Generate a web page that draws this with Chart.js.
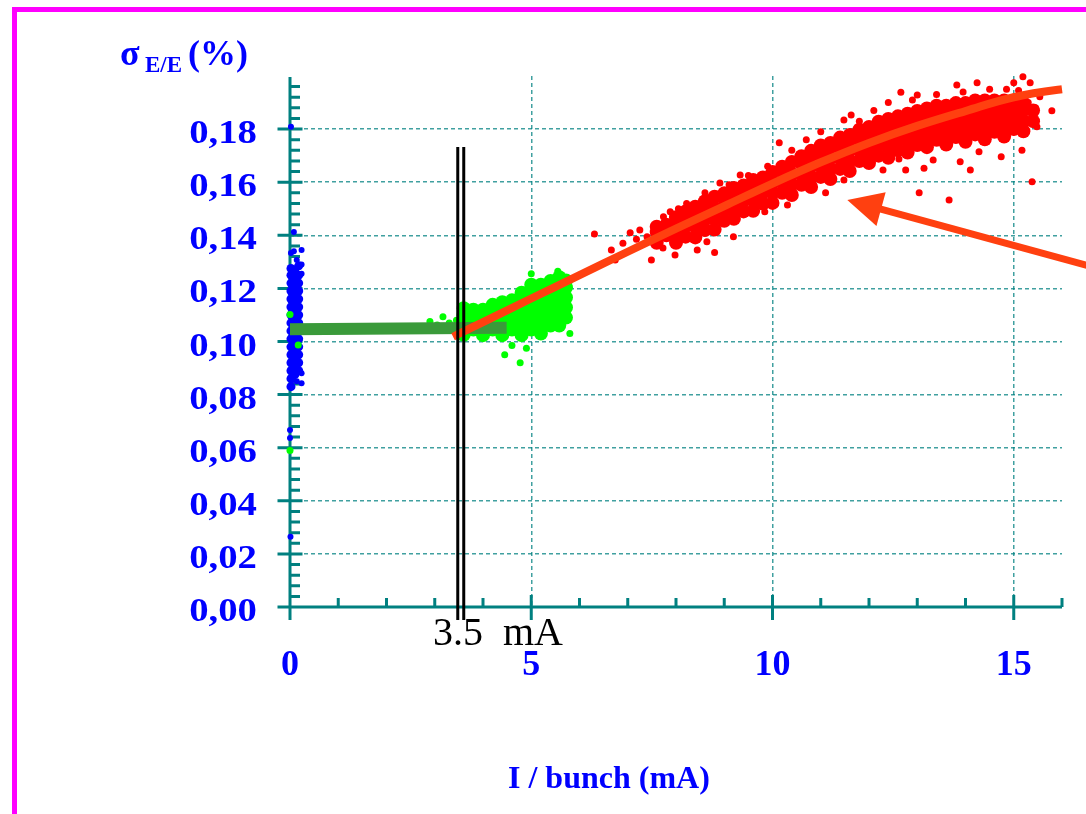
<!DOCTYPE html>
<html>
<head>
<meta charset="utf-8">
<script src="https://cdn.jsdelivr.net/npm/chart.js@4.4.1/dist/chart.umd.min.js"></script>
<style>
  html, body { margin: 0; padding: 0; background: #fff; overflow: hidden; }
  #wrap { position: relative; width: 1086px; height: 814px; overflow: hidden; }
  #frame { position: absolute; left: 12px; top: 7px; width: 2000px; height: 2000px;
           border-left: 5px solid #ff00ff; border-top: 5px solid #ff00ff; }
  canvas { position: absolute; left: 0; top: 0; }
</style>
</head>
<body>
<div id="wrap"><div id="frame"></div><canvas id="myChart" width="1086" height="814"></canvas></div>
<script>
// axis ranges and text
const xMax = 16;
const yMax = 0.2;
const yTitle = ['σ', 'E/E', '(%)'];
const xTitle = 'I / bunch (mA)';
const markerText = '3.5  mA';

// measured points, [current (mA), sigma E/E (%)]
const bluePoints = [
  [0.02,0.0830],[0.02,0.0860],[0.02,0.0890],[0.02,0.0920],[0.02,0.0950],[0.02,0.0980],
  [0.02,0.1010],[0.02,0.1040],[0.02,0.1070],[0.02,0.1100],[0.02,0.1130],[0.02,0.1160],
  [0.02,0.1190],[0.02,0.1220],[0.02,0.1250],[0.02,0.1275],
  [0.10,0.0875],[0.10,0.0905],[0.10,0.0935],[0.10,0.0965],[0.10,0.0995],[0.10,0.1025],
  [0.10,0.1055],[0.10,0.1085],[0.10,0.1115],[0.10,0.1145],[0.10,0.1175],[0.10,0.1205],
  [0.10,0.1235],[0.10,0.1265],
  [0.18,0.0890],[0.18,0.0920],[0.18,0.0950],[0.18,0.0980],[0.18,0.1010],[0.18,0.1040],
  [0.18,0.1070],[0.18,0.1100],[0.18,0.1130],[0.18,0.1160],[0.18,0.1190],[0.18,0.1220],
  [0.18,0.1250],[0.18,0.1285]
];
const blueSparse = [
  [0.24,0.1345],[0.02,0.1333],[0.08,0.1412],[0.14,0.1307],[0.24,0.1290],[0.24,0.1255],
  [0.24,0.0880],[0.24,0.0843],[0.00,0.0667],[0.00,0.0637],[0.01,0.0265],[0.02,0.1809],
  [0.06,0.0855],[0.14,0.0850],[0.08,0.1340]
];

const greenCore = [
  [3.60,0.1025],[3.60,0.1062],[3.60,0.1099],[3.60,0.1125],
  [3.80,0.1045],[3.80,0.1083],[3.80,0.1120],
  [4.00,0.1024],[4.00,0.1061],[4.00,0.1098],[4.00,0.1120],
  [4.20,0.1045],[4.20,0.1083],[4.20,0.1121],[4.20,0.1138],
  [4.40,0.1024],[4.40,0.1062],[4.40,0.1100],[4.40,0.1138],[4.40,0.1148],
  [4.60,0.1045],[4.60,0.1083],[4.60,0.1121],[4.60,0.1155],
  [4.80,0.1024],[4.80,0.1062],[4.80,0.1100],[4.80,0.1138],[4.80,0.1176],[4.80,0.1184],
  [5.00,0.1045],[5.00,0.1083],[5.00,0.1121],[5.00,0.1159],[5.00,0.1197],[5.00,0.1214],
  [5.20,0.1030],[5.20,0.1068],[5.20,0.1106],[5.20,0.1144],[5.20,0.1182],[5.20,0.1214],
  [5.40,0.1060],[5.40,0.1098],[5.40,0.1136],[5.40,0.1174],[5.40,0.1212],[5.40,0.1228],
  [5.58,0.1060],[5.58,0.1098],[5.58,0.1136],[5.58,0.1174],[5.58,0.1212],[5.58,0.1242],
  [5.72,0.1090],[5.72,0.1128],[5.72,0.1166],[5.72,0.1204],[5.72,0.1230]
];

const greenSparse = [
  [2.90,0.1075],[3.05,0.1062],[3.17,0.1093],[3.30,0.1070],[3.45,0.1080],
  [4.45,0.0950],[4.60,0.0985],[4.77,0.0920],[4.90,0.0975],[5.80,0.1030],
  [5.00,0.1255],[5.55,0.1265],[0.00,0.1102],[0.17,0.0987],[0.00,0.0589]
];

const redCore = [
  [7.6,0.1372],[7.6,0.1412],[7.6,0.1432],
  [7.8,0.1400],[7.8,0.1440],
  [8.0,0.1372],[8.0,0.1412],[8.0,0.1452],[8.0,0.1468],
  [8.2,0.1395],[8.2,0.1435],[8.2,0.1475],[8.2,0.1490],
  [8.4,0.1392],[8.4,0.1432],[8.4,0.1472],[8.4,0.1508],
  [8.6,0.1420],[8.6,0.1460],[8.6,0.1500],[8.6,0.1528],
  [8.8,0.1422],[8.8,0.1462],[8.8,0.1502],[8.8,0.1545],
  [9.0,0.1455],[9.0,0.1495],[9.0,0.1535],[9.0,0.1558],
  [9.2,0.1462],[9.2,0.1502],[9.2,0.1542],[9.2,0.1578],
  [9.4,0.1490],[9.4,0.1530],[9.4,0.1570],[9.4,0.1588],
  [9.6,0.1492],[9.6,0.1532],[9.6,0.1572],[9.6,0.1608],
  [9.8,0.1520],[9.8,0.1560],[9.8,0.1600],[9.8,0.1618],
  [10.0,0.1522],[10.0,0.1562],[10.0,0.1602],[10.0,0.1638],
  [10.2,0.1560],[10.2,0.1600],[10.2,0.1640],[10.2,0.1658],
  [10.4,0.1552],[10.4,0.1592],[10.4,0.1632],[10.4,0.1676],
  [10.6,0.1590],[10.6,0.1630],[10.6,0.1670],[10.6,0.1698],
  [10.8,0.1582],[10.8,0.1622],[10.8,0.1662],[10.8,0.1702],[10.8,0.1718],
  [11.0,0.1620],[11.0,0.1660],[11.0,0.1700],[11.0,0.1738],
  [11.2,0.1612],[11.2,0.1652],[11.2,0.1692],[11.2,0.1732],[11.2,0.1748],
  [11.4,0.1650],[11.4,0.1690],[11.4,0.1730],[11.4,0.1768],
  [11.6,0.1642],[11.6,0.1682],[11.6,0.1722],[11.6,0.1762],[11.6,0.1778],
  [11.8,0.1680],[11.8,0.1720],[11.8,0.1760],[11.8,0.1798],
  [12.0,0.1672],[12.0,0.1712],[12.0,0.1752],[12.0,0.1792],[12.0,0.1808],
  [12.2,0.1700],[12.2,0.1740],[12.2,0.1780],[12.2,0.1820],[12.2,0.1828],
  [12.4,0.1692],[12.4,0.1732],[12.4,0.1772],[12.4,0.1812],[12.4,0.1838],
  [12.6,0.1720],[12.6,0.1760],[12.6,0.1800],[12.6,0.1840],[12.6,0.1848],
  [12.8,0.1712],[12.8,0.1752],[12.8,0.1792],[12.8,0.1832],[12.8,0.1858],
  [13.0,0.1740],[13.0,0.1780],[13.0,0.1820],[13.0,0.1860],[13.0,0.1868],
  [13.2,0.1732],[13.2,0.1772],[13.2,0.1812],[13.2,0.1852],[13.2,0.1878],
  [13.4,0.1760],[13.4,0.1800],[13.4,0.1840],[13.4,0.1880],[13.4,0.1888],
  [13.6,0.1742],[13.6,0.1782],[13.6,0.1822],[13.6,0.1862],[13.6,0.1888],
  [13.8,0.1770],[13.8,0.1810],[13.8,0.1850],[13.8,0.1890],[13.8,0.1898],
  [14.0,0.1752],[14.0,0.1792],[14.0,0.1832],[14.0,0.1872],[14.0,0.1898],
  [14.2,0.1780],[14.2,0.1820],[14.2,0.1860],[14.2,0.1900],[14.2,0.1908],
  [14.4,0.1762],[14.4,0.1802],[14.4,0.1842],[14.4,0.1882],[14.4,0.1908],
  [14.6,0.1790],[14.6,0.1830],[14.6,0.1870],[14.6,0.1908],
  [14.8,0.1772],[14.8,0.1812],[14.8,0.1852],[14.8,0.1892],[14.8,0.1908],
  [15.0,0.1800],[15.0,0.1840],[15.0,0.1880],[15.0,0.1908],
  [15.2,0.1792],[15.2,0.1832],[15.2,0.1872],[15.2,0.1898],
  [15.4,0.1830],[15.4,0.1870]
];

const redSparse = [
  [6.31,0.1405],[6.66,0.1345],[6.74,0.1307],[6.90,0.1370],[7.05,0.1410],[7.18,0.1385],
  [7.25,0.1420],[7.40,0.1395],[7.49,0.1307],[7.55,0.1420],[7.73,0.1352],[7.98,0.1326],
  [7.74,0.1470],[7.88,0.1489],[8.05,0.1500],[8.22,0.1520],[8.44,0.1345],[8.64,0.1376],
  [8.60,0.1560],[8.80,0.1335],[9.19,0.1395],[8.91,0.1597],[9.10,0.1590],[9.33,0.1627],
  [9.50,0.1625],[9.84,0.1489],[9.90,0.1660],[10.31,0.1514],[10.14,0.1749],[10.40,0.1720],
  [10.70,0.1760],[11.00,0.1790],[11.10,0.1560],[11.48,0.1608],[11.48,0.1834],[11.63,0.1853],
  [11.80,0.1830],[12.10,0.1870],[12.29,0.1646],[12.40,0.1900],[12.62,0.1687],[12.66,0.1939],
  [12.76,0.1646],[12.90,0.1910],[13.00,0.1928],[13.04,0.1560],[13.14,0.1653],[13.33,0.1684],
  [13.40,0.1930],[13.66,0.1533],[13.82,0.1966],[13.89,0.1677],[13.95,0.1940],[14.10,0.1646],
  [14.24,0.1975],[14.28,0.1715],[14.50,0.1950],[14.74,0.1696],[14.85,0.1950],[15.00,0.1975],
  [15.10,0.1945],[15.17,0.1720],[15.19,0.1997],[15.34,0.1975],[15.38,0.1602],[15.48,0.1809],
  [15.54,0.1922],[15.79,0.1869],[15.30,0.1900],[15.45,0.1880]
];

// fitted trends
const fitCurve = [
  [3.38,0.1018],[4,0.1073],[5,0.1162],[6,0.1250],[7,0.1338],[8,0.1425],[9,0.1510],
  [10,0.1595],[11,0.1675],[12,0.1748],[13,0.1812],[14,0.1868],[15,0.1920],[16,0.1950],[16.6,0.1958]
];
const flatFit = [[0,0.1046],[4.49,0.1052]];

// 3.5 mA threshold marker (double line) and arrow
const markerLeft = [[3.477,0.1733],[3.477,-0.0049]];
const markerRight = [[3.601,0.1733],[3.601,-0.0049]];
const arrowTail = [16.6, 0.1283];
const arrowTip = [11.55, 0.1533];

const teal = '#008080';
const textBlue = '#0000ff';
const fitOrange = '#ff4010';

function pts(list) {
  return list.map(p => ({ x: p[0], y: p[1] }));
}
function fmtY(v) {
  return v.toFixed(2).replace('.', ',');
}
function gridColor(ctx) {
  const v = ctx.tick ? ctx.tick.value : 0;
  if (Math.abs(v) < 1e-9 || Math.abs(v - yMax) < 1e-6) return 'rgba(0,0,0,0)';
  return 'rgba(0,128,128,0.75)';
}
function dots(label, list, color, r, order) {
  return {
    label: label, data: pts(list), backgroundColor: color, pointBackgroundColor: color,
    pointRadius: r, pointBorderWidth: 0, clip: false, order: order
  };
}

const overlay = {
  id: 'overlay',
  beforeDatasetsDraw(chart) {
    const { ctx, scales: { x, y } } = chart;
    const x0 = x.getPixelForValue(0);
    const y0 = y.getPixelForValue(0);
    ctx.save();
    ctx.strokeStyle = teal;
    ctx.lineWidth = 3;
    ctx.beginPath();
    ctx.moveTo(x0, y.getPixelForValue(yMax) + 1);
    ctx.lineTo(x0, y0);
    ctx.lineTo(x.getPixelForValue(xMax), y0);
    // y ticks every 0.004, major every 0.02
    for (let i = 0; i <= 50; i++) {
      const py = y.getPixelForValue(i * 0.004);
      if (i % 5 === 0) {
        if (i < 50) { ctx.moveTo(x0 - 12.5, py); ctx.lineTo(x0 + 12.5, py); }
      } else {
        ctx.moveTo(x0, py); ctx.lineTo(x0 + 10, py);
      }
    }
    // x ticks every 1, major every 5
    for (let i = 0; i <= xMax; i++) {
      const px = x.getPixelForValue(i);
      if (i % 5 === 0) { ctx.moveTo(px, y0 - 12); ctx.lineTo(px, y0 + 13); }
      else { ctx.moveTo(px, y0); ctx.lineTo(px, y0 - 9); }
    }
    ctx.stroke();
    ctx.restore();
  },
  afterDatasetsDraw(chart) {
    const { ctx, scales: { x, y } } = chart;
    const x0 = x.getPixelForValue(0);
    const y0 = y.getPixelForValue(0);
    ctx.save();

    // arrow
    const tx = x.getPixelForValue(arrowTip[0]), ty = y.getPixelForValue(arrowTip[1]);
    const sx = x.getPixelForValue(arrowTail[0]), sy = y.getPixelForValue(arrowTail[1]);
    const ang = Math.atan2(sy - ty, sx - tx);
    const ux = Math.cos(ang), uy = Math.sin(ang);
    const hl = 35, hw = 17.5;
    ctx.strokeStyle = fitOrange;
    ctx.fillStyle = fitOrange;
    ctx.lineWidth = 7;
    ctx.beginPath();
    ctx.moveTo(tx + ux * (hl - 4), ty + uy * (hl - 4));
    ctx.lineTo(sx, sy);
    ctx.stroke();
    ctx.beginPath();
    ctx.moveTo(tx, ty);
    ctx.lineTo(tx + ux * hl - uy * hw, ty + uy * hl + ux * hw);
    ctx.lineTo(tx + ux * hl + uy * hw, ty + uy * hl - ux * hw);
    ctx.closePath();
    ctx.fill();

    // tick labels
    ctx.fillStyle = textBlue;
    ctx.textBaseline = 'alphabetic';
    ctx.font = 'bold 34px "Liberation Serif"';
    ctx.textAlign = 'right';
    y.ticks.forEach(t => {
      if (t.value > yMax - 0.01) return;
      const py = y.getPixelForValue(t.value);
      ctx.save();
      ctx.translate(x0 - 33, py + 14);
      ctx.scale(1.14, 1);
      ctx.fillText(fmtY(t.value), 0, 0);
      ctx.restore();
    });
    ctx.font = 'bold 36px "Liberation Serif"';
    ctx.textAlign = 'center';
    x.ticks.forEach(t => {
      ctx.fillText(String(t.value), x.getPixelForValue(t.value), y0 + 68);
    });

    // axis titles
    ctx.textAlign = 'left';
    ctx.font = 'bold 36px "Liberation Serif"';
    ctx.fillText(yTitle[0], 120, 65);
    ctx.font = 'bold 23px "Liberation Serif"';
    ctx.fillText(yTitle[1], 145, 72);
    ctx.font = 'bold 36px "Liberation Serif"';
    ctx.fillText(yTitle[2], 188, 65);
    ctx.font = 'bold 32px "Liberation Serif"';
    ctx.fillText(xTitle, 508, 788);

    // marker label
    ctx.fillStyle = '#000';
    ctx.font = '40px "Liberation Serif"';
    ctx.fillText(markerText, 433, 645);
    ctx.restore();
  }
};

const data = {
  datasets: [
    {
      label: 'fit', data: pts(fitCurve), showLine: true, tension: 0.4,
      borderColor: fitOrange, borderWidth: 8, pointRadius: 0, clip: false, order: 1
    },
    {
      label: 'flat', data: pts(flatFit), showLine: true,
      borderColor: '#3a9a3a', borderWidth: 12, borderCapStyle: 'butt', pointRadius: 0, order: 2
    },
    {
      label: 'marker1', data: pts(markerLeft), showLine: true,
      borderColor: '#000', borderWidth: 3, pointRadius: 0, clip: false, order: 0
    },
    {
      label: 'marker2', data: pts(markerRight), showLine: true,
      borderColor: '#000', borderWidth: 3, pointRadius: 0, clip: false, order: 0
    },
    dots('red', redCore, '#ff0000', 7, 4),
    dots('red2', redSparse, '#ff0000', 3.5, 4),
    dots('green', greenCore, '#00ff00', 7, 5),
    dots('green2', greenSparse, '#00ff00', 3.5, 5),
    dots('blue', bluePoints, '#0000ff', 4.5, 6),
    dots('blue2', blueSparse, '#0000ff', 3, 6)
  ]
};

const config = {
  type: 'scatter',
  data: data,
  options: {
    responsive: false,
    animation: false,
    events: [],
    layout: { padding: { left: 290, top: 76, right: 24, bottom: 207 } },
    plugins: { legend: { display: false }, tooltip: { enabled: false } },
    scales: {
      x: {
        type: 'linear', min: 0, max: xMax,
        ticks: { display: false, stepSize: 5, includeBounds: false },
        grid: { color: gridColor, lineWidth: 1.5, drawTicks: false },
        border: { display: false, dash: [4, 3] },
        afterFit: s => { s.height = 0; }
      },
      y: {
        type: 'linear', min: 0, max: yMax,
        ticks: { display: false, stepSize: 0.02 },
        grid: { color: gridColor, lineWidth: 1.5, drawTicks: false },
        border: { display: false, dash: [4, 3] },
        afterFit: s => { s.width = 0; }
      }
    }
  },
  plugins: [overlay]
};

var myChart = new Chart(document.getElementById('myChart'), config);
</script>
</body>
</html>
